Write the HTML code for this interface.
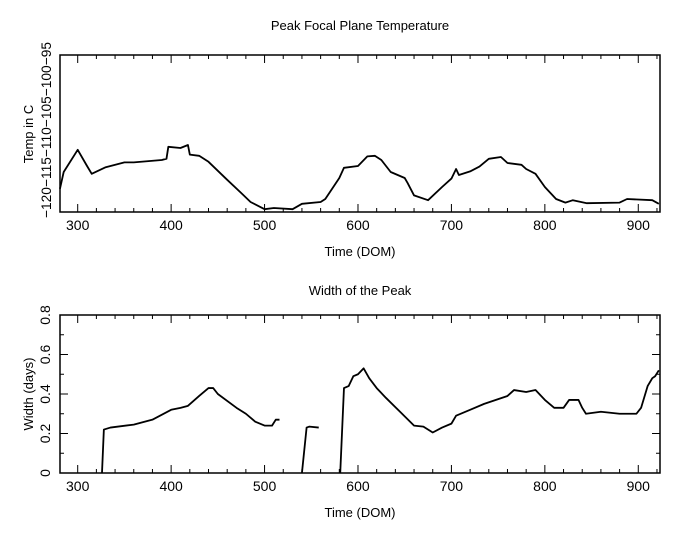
<!DOCTYPE html>
<html><head><meta charset="utf-8"><style>
html,body{margin:0;padding:0;background:#fff;}
svg{display:block;font-family:"Liberation Sans",sans-serif;}
</style></head><body>
<svg id="s" width="681" height="540" xmlns="http://www.w3.org/2000/svg">
<rect width="681" height="540" fill="#fff"/>
<g id="g" fill="none" stroke="#000" stroke-width="1.8"></g>
<g font-size="13" fill="#000" text-anchor="middle">
<text x="360" y="30">Peak Focal Plane Temperature</text>
<text x="360" y="256">Time (DOM)</text>
<text x="360" y="295">Width of the Peak</text>
<text x="360" y="517">Time (DOM)</text>
<text transform="translate(33,134) rotate(-90)">Temp in C</text>
<text transform="translate(33,394) rotate(-90)">Width (days)</text>
</g>
<g id="t" font-size="14" fill="#000" text-anchor="middle"></g>
</svg>
<script>
var NS="http://www.w3.org/2000/svg",g=document.getElementById('g'),t=document.getElementById('t');
function el(p,n,a,txt){var e=document.createElementNS(NS,n);for(var k in a)e.setAttribute(k,a[k]);if(txt!=null)e.textContent=txt;p.appendChild(e);return e;}
var L=60,R=660;function X(d){return 77.7+(d-300)*0.9343;}
function Y1(v){return 55+(-95-v)*6;}
function Y2(v){return 315+(0.8-v)*197.5;}
[[55,212],[315,473]].forEach(function(b){el(g,'rect',{x:L,y:b[0],width:R-L,height:b[1]-b[0],'stroke-width':1.5});
 for(var d=300;d<=920;d+=20){var x=X(d),len=d%100==0?8:4;el(g,'path',{d:'M'+x+' '+b[1]+'v-'+len+'M'+x+' '+b[0]+'v'+len,'stroke-width':1});
  if(d%100==0)el(t,'text',{x:x,y:b[1]+18},d);}});
for(var v=-120;v>=-95;v-=1){var y=Y1(v),len=(v%5==0)?8:4;el(g,'path',{d:'M'+L+' '+y+'h'+len+'M'+R+' '+y+'h-'+len,'stroke-width':1});}
el(t,'text',{transform:'translate(51,130) rotate(-90)','textLength':'176','lengthAdjust':'spacingAndGlyphs'},'\u2212120\u2212115\u2212110\u2212105\u2212100\u221295');
for(var i=0;i<=8;i++){var v=i/10,y=Y2(v),len=i%2==0?8:4;el(g,'path',{d:'M'+L+' '+y+'h'+len+'M'+R+' '+y+'h-'+len,'stroke-width':1});
 if(i%2==0)el(t,'text',{transform:'translate(50,'+y+') rotate(-90)'},i==0?'0':v.toFixed(1));}
function line(pts,Y){el(g,'polyline',{points:pts.map(function(p){return X(p[0])+','+Y(p[1]);}).join(' '),'stroke-linejoin':'round'});}
line([[281,-117.3],[285,-114.5],[300,-110.8],[310,-113.5],[315,-114.8],[330,-113.7],[350,-112.9],[360,-112.9],[390,-112.5],[395,-112.3],[397,-110.3],[410,-110.5],[418,-110.0],[420,-111.6],[430,-111.8],[440,-112.8],[460,-115.8],[475,-118.0],[485,-119.5],[500,-120.7],[510,-120.5],[530,-120.7],[540,-119.8],[560,-119.5],[565,-119.0],[580,-115.5],[585,-113.8],[600,-113.5],[610,-111.9],[618,-111.8],[625,-112.5],[635,-114.5],[650,-115.5],[653,-116.3],[660,-118.4],[675,-119.2],[690,-117.0],[700,-115.6],[705,-114.0],[708,-115.0],[720,-114.4],[730,-113.6],[740,-112.3],[753,-112.0],[760,-113.0],[775,-113.3],[780,-114.0],[790,-114.8],[800,-117],[812,-119.0],[822,-119.6],[830,-119.2],[845,-119.7],[880,-119.6],[888,-119.0],[915,-119.2],[922,-119.8]],Y1);
line([[326,0],[328,0.22],[335,0.23],[360,0.245],[380,0.27],[400,0.32],[410,0.33],[418,0.34],[430,0.39],[440,0.43],[445,0.43],[450,0.40],[470,0.33],[480,0.30],[490,0.26],[500,0.24],[508,0.24],[512,0.27],[516,0.27]],Y2);
line([[540,0],[545,0.23],[548,0.235],[558,0.23]],Y2);
line([[581,0],[585,0.43],[590,0.44],[595,0.49],[600,0.50],[606,0.53],[612,0.48],[620,0.43],[630,0.38],[645,0.31],[660,0.24],[670,0.235],[680,0.205],[690,0.23],[700,0.25],[705,0.29],[720,0.32],[735,0.35],[760,0.39],[767,0.42],[780,0.41],[790,0.42],[800,0.37],[810,0.33],[820,0.33],[826,0.37],[836,0.37],[840,0.33],[844,0.30],[860,0.31],[880,0.30],[898,0.30],[903,0.33],[910,0.44],[915,0.48],[918,0.49],[922,0.52]],Y2);
</script>
</body></html>
